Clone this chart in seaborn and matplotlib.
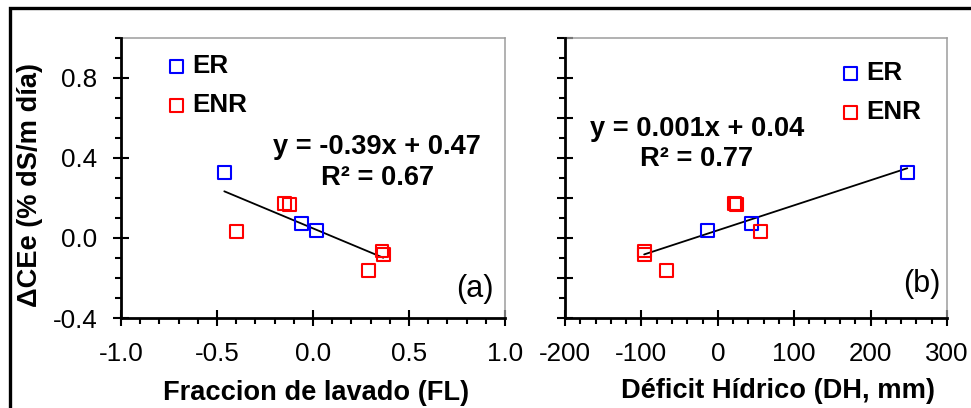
import matplotlib
matplotlib.use("Agg")
import matplotlib.pyplot as plt
from matplotlib.patches import Rectangle
from matplotlib.ticker import FixedLocator, MultipleLocator
import pandas as pd
import seaborn as sns

# Change in soil-extract conductivity per plot (% dS/m per day), same plots in both panels
er_dcee = [0.327, 0.070, 0.035]
enr_dcee = [0.030, 0.173, 0.165, -0.065, -0.082, -0.161]
# Leaching fraction (FL)
er_fl = [-0.462, -0.061, 0.019]
enr_fl = [-0.400, -0.149, -0.121, 0.359, 0.366, 0.288]
# Water deficit (DH, mm)
er_dh = [248.0, 44.5, -13.5]
enr_dh = [55.8, 21.4, 24.4, -96.0, -96.4, -67.2]

groups = ["ER", "ENR"]
group_colors = ["#0000ff", "#ff0000"]

fl_ticks = [-1.0, -0.5, 0.0, 0.5, 1.0]
dh_ticks = [-200, -100, 0, 100, 200, 300]
dcee_ticks = [-0.4, 0.0, 0.4, 0.8]
dcee_ticks_b = [-0.4, -0.2, 0.0, 0.2, 0.4, 0.6, 0.8, 1.0]

eq_fl = ["y = -0.39x + 0.47", "R² = 0.67"]
eq_dh = ["y = 0.001x + 0.04", "R² = 0.77"]

df = pd.DataFrame({
    "grupo": ["ER"] * len(er_fl) + ["ENR"] * len(enr_fl),
    "FL": er_fl + enr_fl,
    "DH": er_dh + enr_dh,
    "dCEe": er_dcee + enr_dcee,
})

sns.set_style("ticks")
plt.rcParams["font.family"] = ["Liberation Sans", "DejaVu Sans"]
plt.rcParams["axes.unicode_minus"] = False
plt.rcParams["text.color"] = "black"
plt.rcParams["axes.labelcolor"] = "black"
plt.rcParams["xtick.color"] = "black"
plt.rcParams["ytick.color"] = "black"

fig = plt.figure(figsize=(9.71, 4.08), dpi=100)
W, H = 971.0, 408.0
ax_a = fig.add_axes([121 / W, (H - 318) / H, 384 / W, 280.4 / H])
ax_b = fig.add_axes([565 / W, (H - 318) / H, 382 / W, 280.4 / H])

TICK_FS = 18.7
LABEL_FS = 19.6
SPINE_GRAY = "#9c9c9c"


def draw_panel(ax, xcol, xlim, xticks, xminor, yticks, show_ylabels):
    handles = []
    for g, c in zip(groups, group_colors):
        sub = df[df["grupo"] == g]
        sns.scatterplot(data=sub, x=xcol, y="dCEe", ax=ax, marker="s", s=85,
                        color=c, facecolor="none", edgecolor=c, linewidth=1.5,
                        label=g, legend=False, zorder=3)
        handles.append(ax.collections[-1])
    sns.regplot(data=df, x=xcol, y="dCEe", ax=ax, scatter=False, ci=None,
                truncate=True, color="black", line_kws={"linewidth": 1.3})

    ax.set_xlim(*xlim)
    ax.set_ylim(-0.4, 1.0)
    ax.xaxis.set_major_locator(FixedLocator(xticks))
    ax.xaxis.set_minor_locator(MultipleLocator(xminor))
    ax.yaxis.set_major_locator(FixedLocator(yticks))
    ax.yaxis.set_minor_locator(MultipleLocator(0.1))
    ax.tick_params(which="major", direction="inout", length=12, width=1.5,
                   color="black", labelsize=TICK_FS, pad=11.0, labelcolor="black")
    ax.tick_params(which="minor", direction="out", length=4.5, width=1.5,
                   color="black")
    ax.tick_params(axis="y", labelleft=show_ylabels)
    for side in ("left", "bottom"):
        ax.spines[side].set_color("black")
        ax.spines[side].set_linewidth(2.0)
    for side in ("top", "right"):
        ax.spines[side].set_visible(True)
        ax.spines[side].set_color(SPINE_GRAY)
        ax.spines[side].set_linewidth(1.1)
    ax.spines["left"].set_zorder(4)
    ax.spines["bottom"].set_zorder(4)
    ax.set_facecolor("white")
    return handles


h_a = draw_panel(ax_a, "FL", (-1.0, 1.0), fl_ticks, 0.1, dcee_ticks, True)
h_b = draw_panel(ax_b, "DH", (-200, 300), dh_ticks, 20, dcee_ticks_b, False)

# axis titles
ax_a.set_xlabel("Fraccion de lavado (FL)", fontsize=LABEL_FS, fontweight="bold",
                color="black")
ax_a.xaxis.set_label_coords(0.507, -0.292)
ax_a.xaxis.label.set_verticalalignment("baseline")
ax_b.set_xlabel("Déficit Hídrico (DH, mm)", fontsize=LABEL_FS, fontweight="bold",
                color="black")
ax_b.xaxis.set_label_coords(0.558, -0.286)
ax_b.xaxis.label.set_verticalalignment("baseline")
ax_a.set_ylabel("ΔCEe (% dS/m día)", fontsize=LABEL_FS, fontweight="bold",
                color="black")
ax_a.yaxis.set_label_coords(-0.203, 0.476)
ax_b.set_ylabel("")

# legends
leg_kw = dict(loc="upper left", frameon=False,
              prop={"weight": "bold", "size": 18.7}, handlelength=0.6,
              handletextpad=0.3, labelspacing=0.57, borderpad=0,
              borderaxespad=0, scatterpoints=1, labelcolor="black")
ax_a.legend(h_a, groups, bbox_to_anchor=(0.125, 0.940), **leg_kw)
ax_b.legend(h_b, groups, bbox_to_anchor=(0.728, 0.916), **leg_kw)

# fitted-line equations
eq_kw = dict(ha="center", va="baseline", fontsize=LABEL_FS,
             fontweight="bold", color="black")
ax_a.text(0.667, 0.584, eq_fl[0], transform=ax_a.transAxes, **eq_kw)
ax_a.text(0.667, 0.474, eq_fl[1], transform=ax_a.transAxes, **eq_kw)
ax_b.text(0.3455, 0.650, eq_dh[0], transform=ax_b.transAxes, **eq_kw)
ax_b.text(0.3455, 0.543, eq_dh[1], transform=ax_b.transAxes, **eq_kw)

# panel tags
ax_a.text(0.9695, 0.076, "(a)", transform=ax_a.transAxes, ha="right",
          va="baseline", fontsize=22, color="black")
ax_b.text(0.9817, 0.094, "(b)", transform=ax_b.transAxes, ha="right",
          va="baseline", fontsize=22, color="black")

# outer frame
fig.patches.append(Rectangle((10 / W, -0.2), 2.0, (H - 8.3) / H + 0.2,
                             transform=fig.transFigure, fill=False,
                             edgecolor="black", linewidth=2.4, clip_on=False))

fig.savefig("out.png", dpi=100, facecolor="white")
